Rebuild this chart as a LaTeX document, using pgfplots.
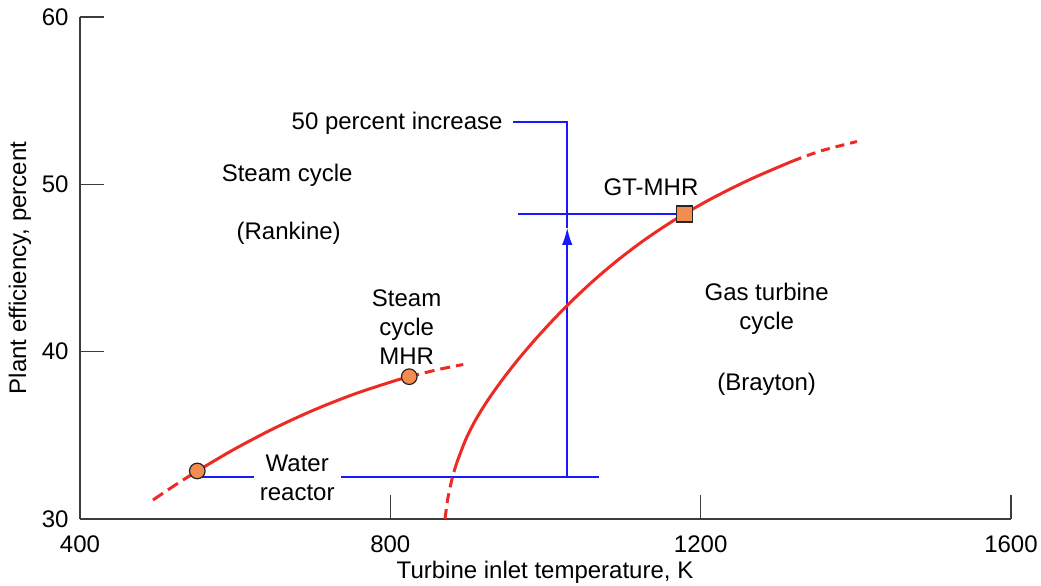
\documentclass[border=0pt,12pt]{standalone}
\usepackage{fontspec}
\setmainfont{Liberation Sans}
\usepackage{pgfplots}
\pgfplotsset{compat=1.18}
\usetikzlibrary{arrows.meta}
\definecolor{cred}{RGB}{237,43,36}
\definecolor{cblue}{RGB}{25,25,255}
\definecolor{corange}{RGB}{242,140,80}
\definecolor{caxis}{RGB}{60,60,60}
\begin{document}
\begin{tikzpicture}
\begin{axis}[
  scale only axis, width=465.5pt, height=251pt,
  xmin=400, xmax=1600, ymin=30, ymax=60,
  axis x line*=bottom, axis y line*=left,
  axis line style={caxis, line width=1pt},
  xtick={400,800,1200,1600}, ytick={30,40,50,60},
  tick align=inside, major tick length=12pt,
  tick style={caxis, line width=0.8pt},
  /pgf/number format/assume math mode=true,
  /pgf/number format/1000 sep={},
  ticklabel style={font=\fontsize{12}{14}\selectfont},
  xticklabel style={yshift=-4pt},
  yticklabel style={xshift=-1.5pt},
  xlabel={Turbine inlet temperature, K},
  ylabel={Plant efficiency, percent},
  xlabel style={at={(axis description cs:0.4995,-0.1056)}, anchor=center, font=\fontsize{12}{14}\selectfont},
  ylabel style={at={(axis description cs:-0.0644,0.5)}, anchor=center, font=\fontsize{12}{14}\selectfont},
  clip=false,
]
% blue guide lines
\addplot[cblue, line width=0.8pt] coordinates {(551,32.5) (1069,32.5)};
\addplot[cblue, line width=0.8pt] coordinates {(965,48.23) (1179,48.23)};
\addplot[cblue, line width=0.8pt] coordinates {(958,53.73) (1028,53.73) (1028,47.4)};
\addplot[cblue, line width=0.8pt, -{Latex[length=8.5pt,width=5.2pt]}] coordinates {(1028,32.5) (1028,47.4)};
% steam cycle curve
\addplot[cred, line width=1.5pt, dash pattern=on 6pt off 3pt, smooth] coordinates {(494.1,31.135) (522.4,32.02) (551.2,32.869)};
\addplot[cred, line width=1.5pt, smooth] coordinates {(551.2,32.869) (597.2,34.126) (648.8,35.386) (700.3,36.490) (751.9,37.437) (803.4,38.227) (824.4,38.504)};
\addplot[cred, line width=1.5pt, dash pattern=on 5pt off 3pt, smooth] coordinates {(824.4,38.504) (861.4,38.929) (894.0,39.233)};
% gas turbine curve
\addplot[cred, line width=1.5pt, dash pattern=on 5pt off 3pt, smooth] coordinates {(870.5,30.0) (874.0,31.195) (879.5,32.390) (885.5,33.347)};
\addplot[cred, line width=1.5pt, smooth] coordinates {(885.5,33.347) (897.5,34.781) (910.6,35.976) (926.7,37.171) (945.1,38.367) (965.3,39.562) (987.3,40.757) (1011.0,41.952) (1036.5,43.147) (1064.3,44.343) (1095.0,45.538) (1129.3,46.733) (1168.3,47.928) (1213.1,49.124) (1264.9,50.319) (1318.8,51.394)};
\addplot[cred, line width=1.5pt, dash pattern=on 4.5pt off 3pt, smooth] coordinates {(1318.8,51.394) (1354.6,51.992) (1401.5,52.559)};
% markers
\addplot[only marks, mark=*, mark size=3.9pt, mark options={fill=corange, draw=black!85, line width=0.6pt}] coordinates {(551.2,32.869) (824.4,38.504)};
\addplot[only marks, mark=square*, mark size=4pt, mark options={fill=corange, draw=black!85, line width=0.6pt}] coordinates {(1179.2,48.227)};
% texts
\node[font=\fontsize{12}{14.5}\selectfont, fill=white, inner xsep=3pt, inner ysep=0pt, align=center] at (axis cs:680,32.45) {Water\\reactor};
\node[font=\fontsize{12}{14.5}\selectfont, align=center] at (axis cs:667,50.55) {Steam cycle};
\node[font=\fontsize{12}{14.5}\selectfont, align=center] at (axis cs:669,47.1) {(Rankine)};
\node[font=\fontsize{12}{14.5}\selectfont, align=center] at (axis cs:821,41.45) {Steam\\cycle\\MHR};
\node[font=\fontsize{12}{14.5}\selectfont, align=center] at (axis cs:1136,49.8) {GT-MHR};
\node[font=\fontsize{12}{14.5}\selectfont, align=center] at (axis cs:1285,42.55) {Gas turbine\\cycle};
\node[font=\fontsize{12}{14.5}\selectfont, align=center] at (axis cs:1285,38.05) {(Brayton)};
\node[font=\fontsize{12}{14.5}\selectfont, anchor=east, inner sep=0pt, xshift=-5pt, yshift=-0.5pt] at (axis cs:958,53.73) {50 percent increase};
\end{axis}
\pgfresetboundingbox
\path[use as bounding box] ([shift={(-40pt,-33.5pt)}]current axis.south west) rectangle ([shift={(15pt,8.5pt)}]current axis.north east);
\end{tikzpicture}
\end{document}
